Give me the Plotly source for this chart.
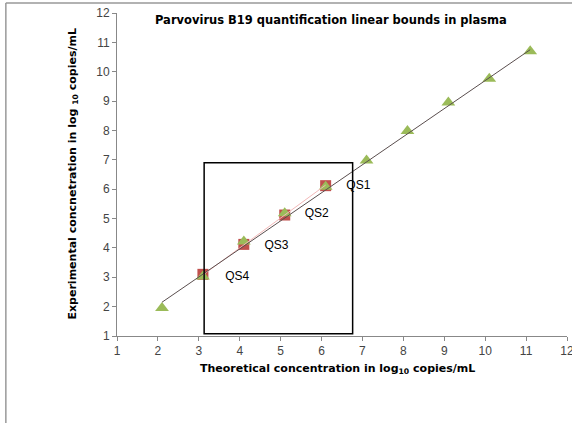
import plotly.graph_objects as go

# Data
tri_x = [2.1, 3.1, 4.1, 5.1, 6.1, 7.1, 8.1, 9.1, 10.1, 11.1]
tri_y = [1.95, 3.03, 4.22, 5.18, 6.08, 6.98, 7.98, 8.95, 9.76, 10.70]
qs_x = [6.1, 5.1, 4.1, 3.1]
qs_y = [6.12, 5.12, 4.12, 3.10]
qs_labels = ["QS1", "QS2", "QS3", "QS4"]
label_x = [6.9, 5.88, 4.9, 3.94]
label_y = [6.1, 5.14, 4.08, 3.02]
trend_x = [2.1, 11.1]
trend_y = [2.15, 10.75]
qs_trend_x = [3.1, 6.1]
qs_trend_y = [3.08, 6.14]
box_x = [3.13, 6.76]
box_y = [1.08, 6.9]

fig = go.Figure()
fig.add_trace(go.Scatter(x=qs_x, y=qs_y, mode="markers",
                         marker=dict(symbol="square", size=11, color="#C0504D"),
                         showlegend=False))
fig.add_trace(go.Scatter(x=tri_x, y=tri_y, mode="markers",
                         marker=dict(symbol="triangle-up", size=12, color="#9BBB59"),
                         showlegend=False))
fig.add_trace(go.Scatter(x=qs_trend_x, y=qs_trend_y, mode="lines",
                         line=dict(color="#F2B8B8", width=1), showlegend=False))
fig.add_trace(go.Scatter(x=trend_x, y=trend_y, mode="lines",
                         line=dict(color="#5a4e4e", width=1), showlegend=False))
fig.add_trace(go.Scatter(x=label_x, y=label_y, mode="text", text=qs_labels,
                         textfont=dict(family="Liberation Sans, Arial", size=12, color="#000"),
                         showlegend=False))

fig.add_shape(type="rect", xref="x", yref="y", x0=box_x[0], x1=box_x[1],
              y0=box_y[0], y1=box_y[1], line=dict(color="#000", width=1.5))
# page frame
fig.add_shape(type="line", xref="paper", yref="paper", x0=-0.247, x1=-0.247, y0=-0.3, y1=1.031,
              line=dict(color="#999", width=1.5))
fig.add_shape(type="line", xref="paper", yref="paper", x0=-0.247, x1=1.02, y0=1.031, y1=1.031,
              line=dict(color="#999", width=1.5))

axis_common = dict(showgrid=False, zeroline=False, showline=True, linecolor="#888",
                   linewidth=1, ticks="outside", ticklen=4, tickcolor="#888",
                   tickfont=dict(family="Liberation Sans, Arial", size=12, color="#444"),
                   dtick=1, ticklabeloverflow="allow", automargin=False)

fig.update_layout(
    width=572, height=423,
    margin=dict(l=117, r=5, t=13, b=87),
    paper_bgcolor="white", plot_bgcolor="white",
    xaxis=dict(range=[1, 12], tick0=1, **axis_common),
    yaxis=dict(range=[1, 12], tick0=1, **axis_common),
    annotations=[
        dict(text="<b>Parvovirus B19 quantification linear bounds in plasma</b>",
             xref="paper", yref="paper", x=0.475, y=0.979, xanchor="center", yanchor="middle",
             showarrow=False, font=dict(family="DejaVu Sans", size=11.5, color="#000")),
        dict(text="<b>Theoretical concentration in log<sub>10</sub> copies/mL</b>",
             xref="paper", yref="paper", x=0.49, y=-0.102, xanchor="center", yanchor="middle",
             showarrow=False, font=dict(family="DejaVu Sans", size=11, color="#000")),
        dict(text="<b>Experimental concnetration in log <sub>10</sub> copies/mL</b>",
             xref="paper", yref="paper", x=-0.1, y=0.5, xanchor="center", yanchor="middle",
             textangle=-90,
             showarrow=False, font=dict(family="DejaVu Sans", size=11, color="#000")),
    ],
)

fig.write_html("out.html")
